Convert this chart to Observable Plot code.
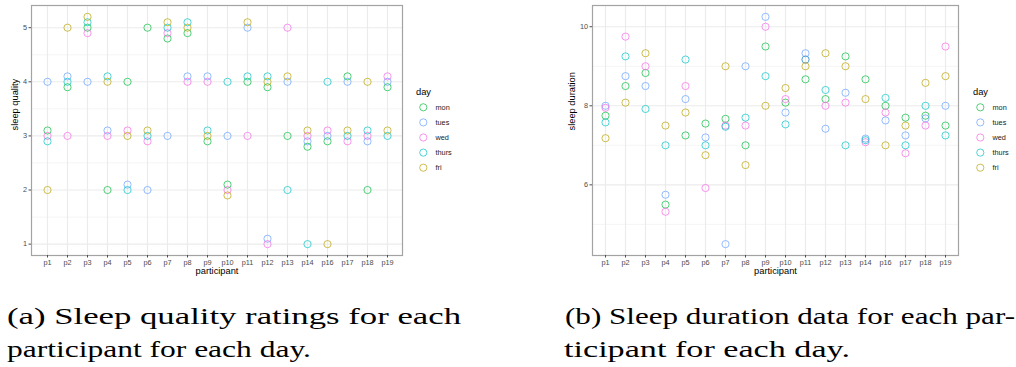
<!DOCTYPE html>
<html>
<head>
<meta charset="utf-8">
<script src="https://cdn.jsdelivr.net/npm/d3@7"></script>
<script src="https://cdn.jsdelivr.net/npm/@observablehq/plot@0.6"></script>
<style>
  html, body { margin: 0; padding: 0; background: white; }
  #root { position: relative; width: 1016px; height: 367px; overflow: hidden; background: white; }
  .panel { position: absolute; top: 0; }
  #overlay { position: absolute; left: 0; top: 0; pointer-events: none; }
</style>
</head>
<body>
<div id="root"></div>
<script>
const participants = ["p1","p2","p3","p4","p5","p6","p7","p8","p9","p10","p11","p12","p13","p14","p16","p17","p18","p19"];
const days = ["mon","tues","wed","thurs","fri"];
const dayColors = ["#00BA38","#619CFF","#F564E3","#00BFC4","#B79F00"];

// Sleep quality (plotted positions, small vertical offsets as in the figure)
const qualityMon   = [3.1,3.9,5.0,2.0,4.0,5.0,4.8,4.9,2.9,2.1,4.0,3.9,3.0,2.8,2.9,4.1,2.0,3.9];
const qualityTues  = [4.0,4.1,4.0,3.1,2.1,2.0,3.0,4.1,4.1,3.0,5.0,1.1,4.0,2.9,3.0,4.0,2.9,4.0];
const qualityWed   = [3.0,3.0,4.9,3.0,3.1,2.9,4.9,4.0,4.0,2.0,3.0,1.0,5.0,3.0,3.1,2.9,3.0,4.1];
const qualityThurs = [2.9,4.0,5.1,4.1,2.0,3.0,5.0,5.1,3.1,4.0,4.1,4.1,2.0,1.0,4.0,3.0,3.1,3.0];
const qualityFri   = [2.0,5.0,5.2,4.0,3.0,3.1,5.1,5.0,3.0,1.9,5.1,4.0,4.1,3.1,1.0,3.1,4.0,3.1];

// Sleep duration (hours)
const durationMon   = [7.75,8.5,8.83,5.5,7.25,7.55,7.67,7.0,9.5,8.08,8.67,8.17,9.25,8.67,8.0,7.7,7.75,7.5];
const durationTues  = [8.0,8.75,8.5,5.75,8.17,7.2,4.5,9.0,10.25,7.83,9.33,7.42,8.33,7.17,7.63,7.25,7.68,8.0];
const durationWed   = [7.95,9.75,9.0,5.32,8.5,5.92,7.5,7.5,10.0,8.17,9.17,8.0,8.08,7.08,7.83,6.8,7.5,9.5];
const durationThurs = [7.58,9.25,7.92,7.0,9.17,7.0,7.47,7.7,8.75,7.53,9.17,8.4,7.0,7.13,8.2,7.0,8.0,7.25];
const durationFri   = [7.18,8.08,9.33,7.5,7.83,6.75,9.0,6.5,8.0,8.45,9.0,9.33,9.0,8.17,7.0,7.5,8.58,8.75];

const qualityTicks = [1,2,3,4,5];
const qualityMinor = [1.5,2.5,3.5,4.5];
const durationTicks = [6,8,10];
const durationMinor = [5,7,9];

const xTitle = "participant";
const legendTitle = "day";
const captionA = ["(a) Sleep quality ratings for each", "participant for each day."];
const captionB = ["(b) Sleep duration data for each par-", "ticipant for each day."];

function toRows(series) {
  const rows = [];
  days.forEach((d, i) => participants.forEach((p, j) => rows.push({participant: p, day: d, value: series[i][j]})));
  return rows;
}

function chart({series, yDomain, yTicks, yMinor, yTitle, width, marginLeft, yTitleDx}) {
  const data = toRows(series);
  return Plot.plot({
    width, height: 280,
    marginLeft, marginRight: 4, marginTop: 5, marginBottom: 25,
    style: {fontFamily: "'Liberation Sans', Arial, sans-serif", background: "white", overflow: "visible"},
    x: {type: "point", domain: participants, padding: 0.6, label: null},
    y: {domain: yDomain, label: null},
    color: {domain: days, range: dayColors},
    marks: [
      Plot.gridY(yMinor, {stroke: "#f3f3f3", strokeOpacity: 1, strokeWidth: 0.8}),
      Plot.gridY(yTicks, {stroke: "#ebebeb", strokeOpacity: 1, strokeWidth: 1.1}),
      Plot.gridX(participants, {stroke: "#ebebeb", strokeOpacity: 1, strokeWidth: 1.1}),
      Plot.frame({stroke: "#a3a3a3", strokeWidth: 1.2}),
      Plot.axisX(participants, {tickSize: 2.5, tickPadding: 1.5, fontSize: 7.3, color: "#4d4d4d", label: null}),
      Plot.axisY(yTicks, {tickSize: 2.5, tickPadding: 2, fontSize: 7.3, color: "#4d4d4d", label: null, tickFormat: d => String(d)}),
      Plot.dot(data, {x: "participant", y: "value", stroke: "day", r: 3.6, strokeWidth: 0.8, strokeOpacity: 0.85}),
      Plot.text([xTitle], {text: d => d, frameAnchor: "bottom", dy: 18, fontSize: 9.3, fill: "black"}),
      Plot.text([yTitle], {text: d => d, frameAnchor: "left", dx: yTitleDx, rotate: -90, fontSize: 9.3, fill: "black"})
    ]
  });
}

const root = document.getElementById("root");

const left = chart({
  series: [qualityMon, qualityTues, qualityWed, qualityThurs, qualityFri],
  yDomain: [0.79, 5.41], yTicks: qualityTicks, yMinor: qualityMinor,
  yTitle: "sleep quality", width: 406, marginLeft: 31, yTitleDx: -16
});
const leftDiv = document.createElement("div");
leftDiv.className = "panel"; leftDiv.style.left = "0px";
leftDiv.appendChild(left);
root.appendChild(leftDiv);

const right = chart({
  series: [durationMon, durationTues, durationWed, durationThurs, durationFri],
  yDomain: [4.2125, 10.5375], yTicks: durationTicks, yMinor: durationMinor,
  yTitle: "sleep duration", width: 402, marginLeft: 32, yTitleDx: -20
});
const rightDiv = document.createElement("div");
rightDiv.className = "panel"; rightDiv.style.left = "560px";
rightDiv.appendChild(right);
root.appendChild(rightDiv);

// Overlay: legends and captions
const svg = d3.select(root).append("svg").attr("id", "overlay")
  .attr("width", 1016).attr("height", 367);

function legend(x0) {
  const g = svg.append("g").attr("font-family", "'Liberation Sans', Arial, sans-serif");
  g.append("text").attr("x", x0).attr("y", 95).attr("font-size", 9.3).attr("fill", "black").text(legendTitle);
  days.forEach((d, i) => {
    const y = 107.3 + i * 15.1;
    g.append("circle").attr("cx", x0 + 7.3).attr("cy", y).attr("r", 3.6)
      .attr("fill", "none").attr("stroke", dayColors[i]).attr("stroke-width", 0.8).attr("stroke-opacity", 0.85);
    g.append("text").attr("x", x0 + 19.5).attr("y", y).attr("dy", "0.34em")
      .attr("font-size", 7.3).attr("fill", "#1a1a1a").text(d);
  });
}
legend(416);
legend(973);

function caption(lines, x, widths) {
  const g = svg.append("g").attr("font-family", "'Liberation Serif', 'Times New Roman', serif").attr("font-size", 23).attr("fill", "black");
  lines.forEach((t, i) => {
    g.append("text").attr("x", x[i]).attr("y", 323.5 + i * 33)
      .attr("textLength", widths[i]).attr("lengthAdjust", "spacingAndGlyphs").text(t);
  });
}
caption(captionA, [7, 7], [454, 304]);
caption(captionB, [565, 564], [450, 286]);
</script>
</body>
</html>
